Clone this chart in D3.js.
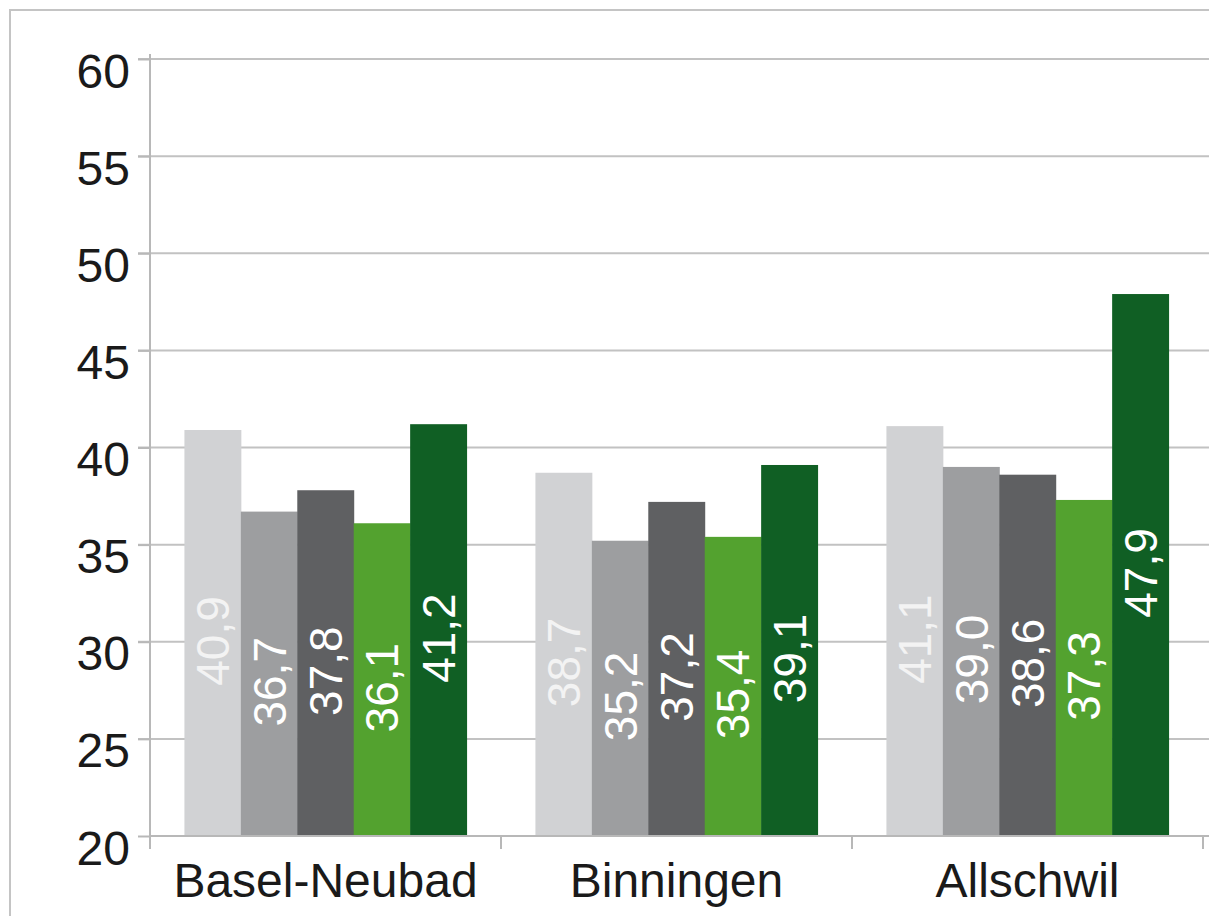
<!DOCTYPE html>
<html lang="de">
<head>
<meta charset="UTF-8">
<script src="https://cdn.jsdelivr.net/npm/d3@7/dist/d3.min.js"></script>
<title>Balken</title>
<style>
  body { margin: 0; background: #fff; }
  text { font-family: "Liberation Sans", Arial, sans-serif; }
</style>
</head>
<body>
<svg id="chart" width="1209" height="916"></svg>
<script>
// Daten
var categories = ["Basel-Neubad", "Binningen", "Allschwil"];
var seriesNames = ["s1", "s2", "s3", "s4", "s5"];
var seriesColors = ["#d1d2d4", "#9d9ea0", "#5f6062", "#53a22f", "#105f24"];
var labelColors = ["#f3f3f3", "#ffffff", "#ffffff", "#ffffff", "#ffffff"];
var values = [
    [40.9, 36.7, 37.8, 36.1, 41.2],
    [38.7, 35.2, 37.2, 35.4, 39.1],
    [41.1, 39.0, 38.6, 37.3, 47.9]
];
var yTicks = [20, 25, 30, 35, 40, 45, 50, 55, 60];

var svg = d3.select("#chart");
var W = 1209;
var plotLeft = 150, plotTop = 59, plotBottom = 836;

// rahmen
svg.append("path")
    .attr("d", "M10,916 L10,10 L1209,10")
    .attr("fill", "none")
    .attr("stroke", "#c4c4c4")
    .attr("stroke-width", 2);

var y = d3.scaleLinear().domain([20, 60]).range([plotBottom, plotTop]);
var x = d3.scaleBand().domain(categories).range([plotLeft, 1203]);
var xs = d3.scaleBand().domain(seriesNames)
    .range([0, x.bandwidth()]).paddingOuter(0.61);

// gitterlinien
svg.selectAll("line.grid")
    .data(yTicks.filter(function(d){ return d > 20; }))
    .enter().append("line")
    .attr("class", "grid")
    .attr("x1", plotLeft - 12).attr("x2", W)
    .attr("y1", function(d){ return y(d); })
    .attr("y2", function(d){ return y(d); })
    .attr("stroke", "#c2c2c2")
    .attr("stroke-width", 2);

// y achse
var yAxis = svg.append("g")
    .attr("transform", "translate(" + plotLeft + ",0)")
    .call(d3.axisLeft(y).tickValues(yTicks).tickSize(12).tickPadding(8));
yAxis.select(".domain").attr("stroke", "#b8b8b8").attr("stroke-width", 2)
    .attr("d", "M0,54 V" + plotBottom);
yAxis.selectAll(".tick line").attr("stroke", "#b8b8b8").attr("stroke-width", 2);
yAxis.selectAll(".tick text")
    .attr("font-size", 48)
    .attr("font-family", "Liberation Sans, Arial, sans-serif")
    .attr("fill", "#1a1a1a")
    .attr("x", -20)
    .attr("dy", 28);

// balken
var groups = svg.selectAll("g.cat")
    .data(values)
    .enter().append("g")
    .attr("class", "cat")
    .attr("transform", function(d, i){ return "translate(" + x(categories[i]) + ",0)"; });

groups.selectAll("rect")
    .data(function(d){ return d; })
    .enter().append("rect")
    .attr("x", function(d, i){ return xs(seriesNames[i]); })
    .attr("width", xs.bandwidth() + 0.5)
    .attr("y", function(d){ return y(d); })
    .attr("height", function(d){ return y(20) - y(d); })
    .attr("fill", function(d, i){ return seriesColors[i]; });

// werte in den balken
groups.selectAll("text.val")
    .data(function(d){ return d; })
    .enter().append("text")
    .attr("class", "val")
    .attr("transform", function(d, i){
        var cx = xs(seriesNames[i]) + xs.bandwidth() / 2;
        var cy = (y(d) + y(20)) / 2 + 8;
        return "translate(" + cx + "," + cy + ") rotate(-90)";
    })
    .attr("text-anchor", "middle")
    .attr("dy", "0.36em")
    .attr("font-size", 46)
    .attr("fill", function(d, i){ return labelColors[i]; })
    .text(function(d){ return d3.format(".1f")(d).replace(".", ","); });

// x achse
svg.append("line")
    .attr("x1", plotLeft).attr("x2", W)
    .attr("y1", plotBottom).attr("y2", plotBottom)
    .attr("stroke", "#b8b8b8").attr("stroke-width", 2);

var bounds = categories.map(function(c){ return x(c); });
bounds.push(x(categories[categories.length - 1]) + x.bandwidth());
svg.selectAll("line.xtick")
    .data(bounds)
    .enter().append("line")
    .attr("class", "xtick")
    .attr("x1", function(d){ return d; }).attr("x2", function(d){ return d; })
    .attr("y1", plotBottom).attr("y2", plotBottom + 13)
    .attr("stroke", "#b8b8b8").attr("stroke-width", 2);

svg.selectAll("text.catlabel")
    .data(categories)
    .enter().append("text")
    .attr("class", "catlabel")
    .attr("x", function(d){ return x(d) + x.bandwidth() / 2; })
    .attr("y", 897)
    .attr("text-anchor", "middle")
    .attr("font-size", 48)
    .attr("fill", "#1a1a1a")
    .text(function(d){ return d; });
</script>
</body>
</html>
